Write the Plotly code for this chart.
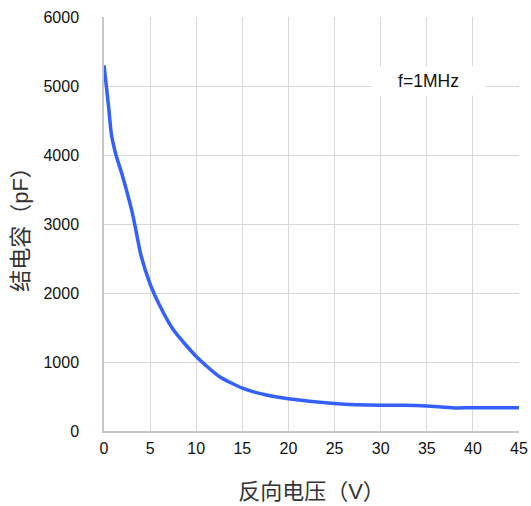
import plotly.graph_objects as go

voltage = [0, 0.5, 0.8, 1.3, 2, 3, 3.4, 4, 5, 6, 7.5, 10, 12.5, 15, 17.5, 20, 25, 30, 32.5, 35, 38, 40, 45]
capacitance = [5300, 4700, 4300, 4000, 3700, 3200, 2950, 2550, 2130, 1830, 1470, 1080, 790, 620, 525, 468, 400, 372, 372, 362, 335, 338, 338]

x_ticks = [0, 5, 10, 15, 20, 25, 30, 35, 40, 45]
y_ticks = [0, 1000, 2000, 3000, 4000, 5000, 6000]

font = "Liberation Sans, Arial, Noto Sans CJK SC, sans-serif"

fig = go.Figure()
fig.add_trace(go.Scatter(
    x=voltage, y=capacitance, mode="lines",
    line=dict(color="#3360ff", width=3.5, shape="spline", smoothing=0.6),
    showlegend=False, hoverinfo="skip",
))

fig.add_annotation(
    x=35.2, y=5070, text="f=1MHz", showarrow=False,
    font=dict(size=17.5, color="#111", family=font),
    bgcolor="white", borderpad=4, width=105, height=20,
)

fig.update_layout(
    width=531, height=506,
    margin=dict(l=104, r=12, t=17, b=75, autoexpand=False),
    paper_bgcolor="white", plot_bgcolor="white",
    font=dict(family=font, size=16, color="#111"),
    xaxis=dict(
        range=[0, 45], tickvals=x_ticks, showgrid=True, gridcolor="#d9d9d9", gridwidth=1.3,
        showline=True, linecolor="#c8c8c8", linewidth=1.5, zeroline=False,
        ticks="", ticklabelstandoff=2, automargin=False,
        title=dict(text="反向电压（V）", font=dict(size=22, color="#333"), standoff=28),
        mirror=False,
    ),
    yaxis=dict(
        range=[0, 6000], tickvals=y_ticks, showgrid=True, gridcolor="#d9d9d9", gridwidth=1.3,
        showline=True, linecolor="#c8c8c8", linewidth=1.5, zeroline=False,
        ticks="", ticklabelstandoff=20, automargin=False,
        title=dict(text="结电容（pF）", font=dict(size=22, color="#333"), standoff=9),
    ),
)

fig.write_html("out.html", post_script="document.body.style.margin='0';",
               config={"displayModeBar": False})
